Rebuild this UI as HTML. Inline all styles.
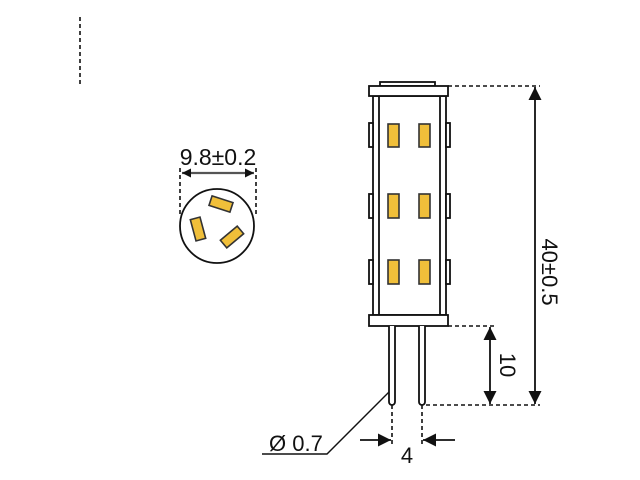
<!DOCTYPE html>
<html><head><style>body{margin:0;background:#fff}svg{display:block}</style></head><body>
<svg width="640" height="480" viewBox="0 0 640 480" xmlns="http://www.w3.org/2000/svg" font-family="Liberation Sans, sans-serif">
<defs>
<marker id="a" viewBox="0 0 10 10" refX="10" refY="5" markerWidth="10" markerHeight="9" markerUnits="userSpaceOnUse" orient="auto-start-reverse"><path d="M0,0 L10,5 L0,10 z" fill="#111"/></marker>
<marker id="b" viewBox="0 0 10 10" refX="10" refY="5" markerWidth="15" markerHeight="13" markerUnits="userSpaceOnUse" orient="auto-start-reverse"><path d="M0,0 L10,5 L0,10 z" fill="#111"/></marker>
</defs>
<g stroke="#111" fill="none" stroke-width="1.6" stroke-dasharray="4,3">
<line x1="80" y1="17" x2="80" y2="85"/>
<line x1="180" y1="168" x2="180" y2="215"/>
<line x1="256" y1="168" x2="256" y2="215"/>
<line x1="448" y1="86" x2="540" y2="86"/>
<line x1="426" y1="405" x2="540" y2="405"/>
<line x1="448" y1="326" x2="495" y2="326"/>
<line x1="392" y1="405" x2="392" y2="445"/>
<line x1="422" y1="405" x2="422" y2="445"/>
</g>
<line x1="182" y1="173" x2="254" y2="173" stroke="#555" stroke-width="2.2" marker-start="url(#a)" marker-end="url(#a)"/>
<text x="218" y="165" font-size="23" text-anchor="middle" fill="#111">9.8±0.2</text>
<circle cx="217" cy="226" r="37" fill="#fff" stroke="#111" stroke-width="1.8"/>
<g fill="#f0bf3a" stroke="#333" stroke-width="1.6">
<rect x="-11" y="-5" width="22" height="10" transform="translate(221,204) rotate(18)"/>
<rect x="-11" y="-5" width="22" height="10" transform="translate(198,229) rotate(75)"/>
<rect x="-11" y="-5" width="22" height="10" transform="translate(232,237) rotate(-40)"/>
</g>
<g stroke="#111" stroke-width="1.8" fill="#fff">
<rect x="380" y="82" width="55" height="4"/>
<rect x="373" y="96" width="73" height="219"/>
<line x1="379" y1="96" x2="379" y2="315"/>
<line x1="440" y1="96" x2="440" y2="315"/>
<rect x="369" y="86" width="79" height="10"/>
<rect x="369" y="315" width="79" height="11"/>
<rect x="369" y="123" width="4" height="24"/><rect x="446" y="123" width="4" height="24"/>
<rect x="369" y="194" width="4" height="24"/><rect x="446" y="194" width="4" height="24"/>
<rect x="369" y="260" width="4" height="24"/><rect x="446" y="260" width="4" height="24"/>
<path d="M389,326 V402 a3,3 0 0 0 6,0 V326"/>
<path d="M419,326 V402 a3,3 0 0 0 6,0 V326"/>
</g>
<g fill="#f0bf3a" stroke="#333" stroke-width="1.6">
<rect x="388" y="124" width="11" height="23"/><rect x="419" y="124" width="11" height="23"/>
<rect x="388" y="194" width="11" height="24"/><rect x="419" y="194" width="11" height="24"/>
<rect x="388" y="260" width="11" height="24"/><rect x="419" y="260" width="11" height="24"/>
</g>
<g stroke="#111" stroke-width="1.8">
<line x1="535" y1="87" x2="535" y2="404" marker-start="url(#b)" marker-end="url(#b)"/>
<line x1="490" y1="327" x2="490" y2="404" marker-start="url(#b)" marker-end="url(#b)"/>
<line x1="360" y1="440" x2="391" y2="440" marker-end="url(#b)"/>
<line x1="455" y1="440" x2="423" y2="440" marker-end="url(#b)"/>
<polyline points="389,392 327,454 262,454" fill="none" stroke-width="1.4"/>
</g>
<text font-size="22" fill="#111" transform="translate(542,272) rotate(90)" text-anchor="middle">40±0.5</text>
<text font-size="22" fill="#111" transform="translate(500,365) rotate(90)" text-anchor="middle">10</text>
<text x="407" y="463" font-size="22" text-anchor="middle" fill="#111">4</text>
<text x="269" y="451" font-size="22" fill="#111">Ø 0.7</text>
</svg>
</body></html>
